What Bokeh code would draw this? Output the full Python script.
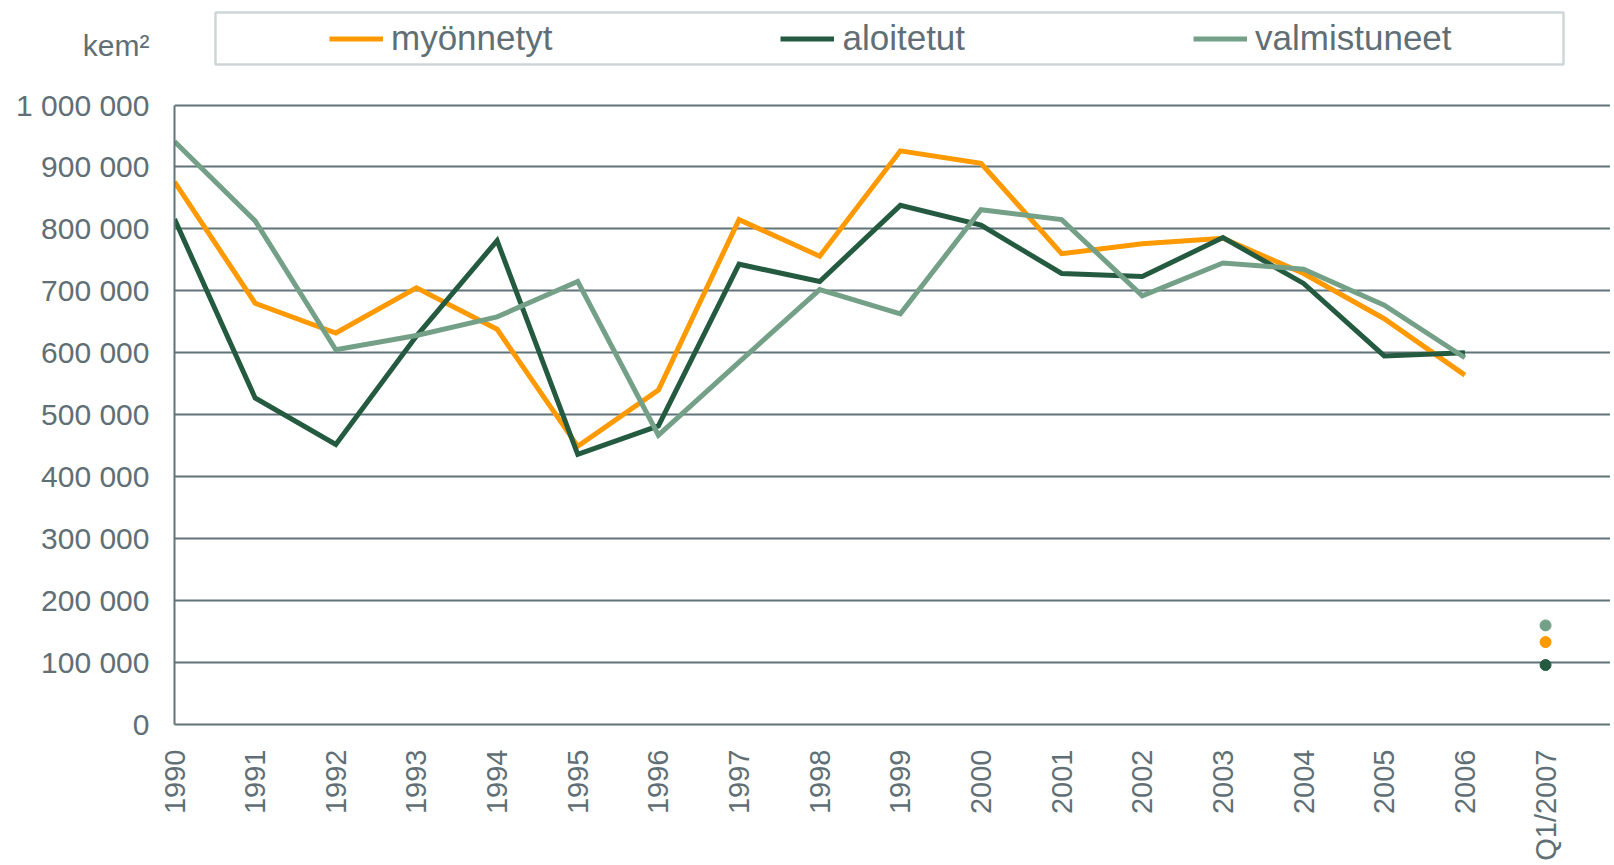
import math
from bokeh.plotting import figure
from bokeh.models import (FixedTicker, Legend, LegendItem, BoxAnnotation, Range1d)
from bokeh.embed import file_html
from bokeh.resources import INLINE

categories = ["1990", "1991", "1992", "1993", "1994", "1995", "1996", "1997", "1998",
              "1999", "2000", "2001", "2002", "2003", "2004", "2005", "2006", "Q1/2007"]
myonnetyt = [876000, 680000, 632000, 705000, 638000, 449000, 540000, 815000, 756000,
             926000, 906000, 760000, 776000, 785000, 728000, 655000, 564000]
aloitetut = [816000, 527000, 452000, 627000, 781000, 436000, 482000, 743000, 715000,
             838000, 806000, 728000, 723000, 786000, 712000, 595000, 600000]
valmistuneet = [941000, 813000, 605000, 628000, 658000, 715000, 467000, 585000, 702000,
                663000, 831000, 815000, 692000, 745000, 735000, 677000, 592000]
q1_2007 = {"myönnetyt": 133000, "aloitetut": 96000, "valmistuneet": 160000}
y_ticks = [0, 100000, 200000, 300000, 400000, 500000, 600000, 700000, 800000, 900000, 1000000]
y_tick_labels = ["0", "100 000", "200 000", "300 000", "400 000", "500 000", "600 000",
                 "700 000", "800 000", "900 000", "1 000 000"]
unit_label = "kem²"
series_names = ["myönnetyt", "aloitetut", "valmistuneet"]
colors = ["#FF9900", "#245B40", "#74A088"]

TEXT = "#5F6F75"
GRID = "#607479"
FONT = "Liberation Sans"

# layout (pixels)
W, H = 1610, 864
FRAME_LEFT = 174
FRAME_BOTTOM_PX = 724          # page y of value 0
TOP_VALUE_PX = 104.5           # page y of 1 000 000
CAT_STEP = 80.65               # px per category
px_per_unit = (FRAME_BOTTOM_PX - TOP_VALUE_PX) / 1000000.0
y_end = FRAME_BOTTOM_PX / px_per_unit
x_end = (W - FRAME_LEFT) / CAT_STEP
unit_tick = 1000000 + (TOP_VALUE_PX - 45) / px_per_unit   # row of the unit text

p = figure(width=W, height=H, output_backend="svg", toolbar_location=None,
           x_range=Range1d(0, x_end), y_range=Range1d(0, y_end),
           min_border_left=FRAME_LEFT, min_border_top=0,
           min_border_bottom=H - FRAME_BOTTOM_PX, min_border_right=0)
p.outline_line_color = None
p.background_fill_color = "white"
p.border_fill_color = "white"

xs = list(range(len(categories)))
renderers = []
for name, vals, c in zip(series_names, [myonnetyt, aloitetut, valmistuneet], colors):
    r = p.line(xs[:len(vals)], vals, line_color=c, line_width=5, line_join="miter")
    renderers.append(r)
for name, c in zip(series_names, colors):
    p.scatter([xs[-1]], [q1_2007[name]], size=11, fill_color=c, line_color=c)

# axes
p.xaxis.ticker = FixedTicker(ticks=xs)
p.xaxis.major_label_overrides = {i: lab for i, lab in enumerate(categories)}
p.xaxis.major_label_orientation = math.pi / 2
p.yaxis.ticker = FixedTicker(ticks=y_ticks + [unit_tick])
overrides = {t: lab for t, lab in zip(y_ticks, y_tick_labels)}
overrides[unit_tick] = unit_label
p.yaxis.major_label_overrides = overrides
p.yaxis.bounds = (0, 1000000)
for ax in (p.xaxis, p.yaxis):
    ax.axis_line_color = GRID
    ax.axis_line_width = 2
    ax.major_tick_in = 0
    ax.major_tick_out = 0
    ax.minor_tick_in = 0
    ax.minor_tick_out = 0
    ax.major_label_text_font = FONT
    ax.major_label_text_color = TEXT
p.xaxis.major_label_text_font_size = "29px"
p.yaxis.major_label_text_font_size = "30px"
p.xaxis.major_label_standoff = 25
p.yaxis.major_label_standoff = 25
p.xgrid.grid_line_color = None
p.ygrid.ticker = FixedTicker(ticks=y_ticks)
p.ygrid.grid_line_color = GRID
p.ygrid.grid_line_width = 2

# legend (inside the frame, which reaches the top of the canvas)
legend = Legend(items=[LegendItem(label=n, renderers=[r]) for n, r in zip(series_names, renderers)],
                orientation="horizontal", location=(329 - FRAME_LEFT, FRAME_BOTTOM_PX - 58),
                padding=0, spacing=228,
                glyph_width=54, glyph_height=35, label_height=35, label_standoff=8,
                label_text_font=FONT, label_text_font_size="35px", label_text_color=TEXT,
                border_line_color=None, background_fill_alpha=0, margin=0)
p.add_layout(legend, "center")

box = BoxAnnotation(left=215 - FRAME_LEFT, right=1563 - FRAME_LEFT,
                    top=FRAME_BOTTOM_PX - 12, bottom=FRAME_BOTTOM_PX - 64,
                    left_units="screen", right_units="screen", top_units="screen", bottom_units="screen",
                    fill_alpha=0, line_color=GRID, line_width=2.5)
p.add_layout(box)

open("out.html", "w").write(file_html(p, INLINE))
